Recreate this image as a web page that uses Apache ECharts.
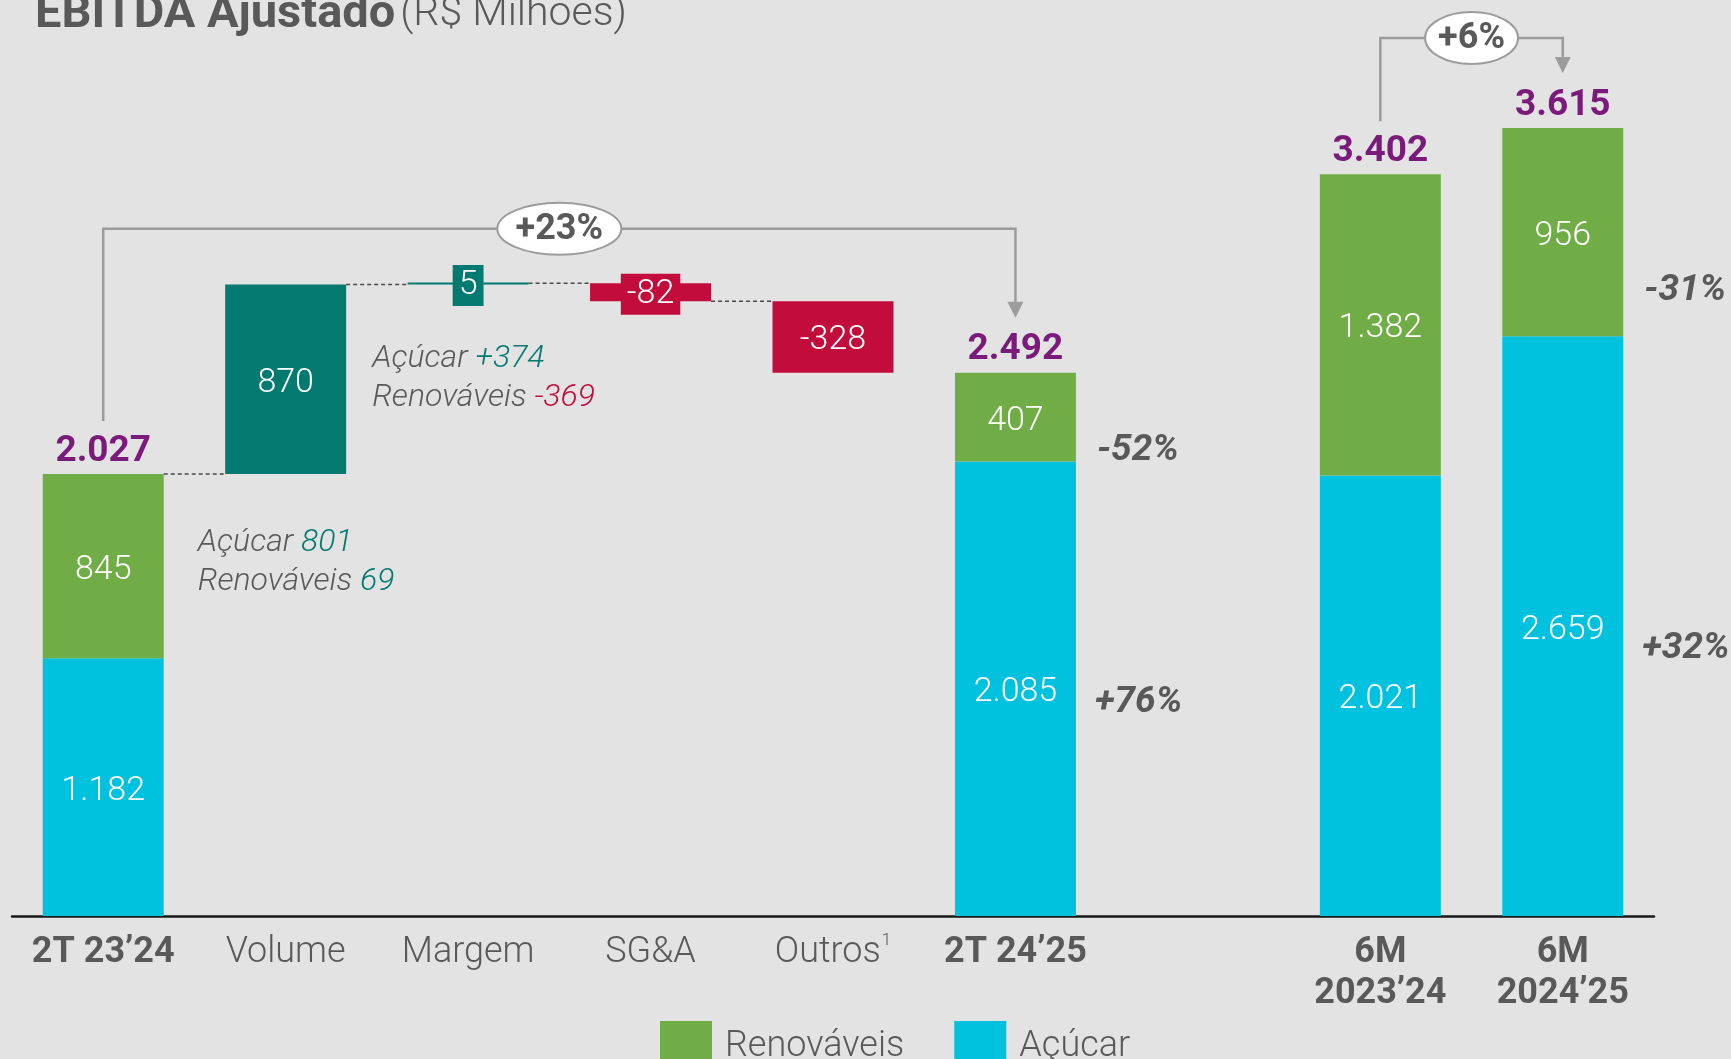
<!DOCTYPE html>
<html>
<head>
<meta charset="utf-8">
<title>EBITDA Ajustado</title>
<script src="https://cdn.jsdelivr.net/npm/echarts@6/dist/echarts.min.js"></script>
<style>
  html, body { margin: 0; padding: 0; background: #e3e3e3; }
  #chart { width: 1731px; height: 1059px; }
</style>
</head>
<body>
<div id="chart"></div>
<script>
// categories (index 6 is the empty gap before the 6M bars)
var categories = ['2T 23’24', 'Volume', 'Margem', 'SG&A', 'Outros', '2T 24’25', '', '6M\n2023’24', '6M\n2024’25'];
var acucar     = [1182, '-', '-', '-', '-', 2085, '-', 2021, 2659];
var renovaveis = [845,  '-', '-', '-', '-', 407,  '-', 1382, 956];
var totals     = [2027, '-', '-', '-', '-', 2492, '-', 3402, 3615];

// bridge 2T 23'24 -> 2T 24'25
var bridgeCats   = [1, 2, 3, 4];
var bridgeDeltas = [870, 5, -82, -328];

// growth per segment (Renováveis / Açúcar)
var growthRenov  = ['-', '-', '-', '-', '-', '-52%', '-', '-', '-31%'];
var growthAcucar = ['-', '-', '-', '-', '-', '+76%', '-', '-', '+32%'];

// brackets with % change
var bracketFrom   = [0, 7];
var bracketTo     = [5, 8];
var bracketLabels = ['+23%', '+6%'];

// split notes
var splitNames   = ['Açúcar', 'Renováveis'];
var openingSplit = [801, 69];
var volumeSplit  = [374, -369];

var FONT = 'Roboto, "Noto Sans", sans-serif';
var GRAY = '#595959';
var TEAL = '#027a6f';
var RED = '#c20c3c';
var GREEN = '#70ad47';
var CYAN = '#00c1de';
var PURPLE = '#7a1b7c';
var LINE = '#9c9c9c';
var BAR_RATIO = 0.663;

function fmt(n) {
  return String(n).replace(/\B(?=(\d{3})+(?!\d))/g, '.');
}

// waterfall base / height
var base = categories.map(function () { return '-'; });
var delta = categories.map(function () { return '-'; });
var levels = [[0, totals[0]]];
var level = totals[0];
bridgeCats.forEach(function (c, i) {
  var d = bridgeDeltas[i];
  base[c] = d >= 0 ? level : level + d;
  var boxed = Math.abs(d) < 100;
  delta[c] = {
    value: Math.abs(d),
    itemStyle: { color: d >= 0 ? TEAL : RED },
    label: {
      show: true, position: 'inside', color: '#fff', fontSize: 34, fontWeight: 300, fontFamily: FONT,
      backgroundColor: boxed ? (d >= 0 ? TEAL : RED) : 'transparent',
      padding: boxed ? [6, 6, 1, 6] : 0,
      offset: boxed ? [0, 2] : [0, 4],
      formatter: function () { return fmt(d); }
    }
  };
  level += d;
  levels.push([c, level]);
});
levels.pop(); // last level ends at 2T 24'25 itself

var valueLabel = {
  show: true, position: 'inside', color: '#fff', fontSize: 34, fontWeight: 300, fontFamily: FONT,
  offset: [0, 4],
  formatter: function (p) { return fmt(p.value); }
};

var axisData = categories.map(function (c, i) {
  return { value: c, textStyle: { fontWeight: totals[i] !== '-' ? 'bold' : 300 } };
});

// side notes
var notes = [];
function splitText(vals, signed) {
  return vals.map(function (v, k) {
    var s = signed && v > 0 ? '+' + fmt(v) : fmt(v);
    return '{n|' + splitNames[k] + ' }{' + (v >= 0 ? 'p' : 'm') + '|' + s + '}';
  }).join('\n');
}
notes.push({ cat: 0, value: acucar[0] + renovaveis[0] / 2, text: splitText(openingSplit, false), dx: 34, dy: -4 });
notes.push({ cat: 1, value: totals[0] + bridgeDeltas[0] / 2, text: splitText(volumeSplit, true), dx: 26, dy: -1 });
var pctShift = { 5: [34, 14], 8: [59, 23] };
growthRenov.forEach(function (g, i) {
  if (g === '-') return;
  notes.push({ cat: i, value: acucar[i] + renovaveis[i] / 2, text: '{g|' + g + '}', dx: 21, dy: pctShift[i][0] });
  notes.push({ cat: i, value: acucar[i] / 2, text: '{g|' + growthAcucar[i] + '}', dx: 19, dy: pctShift[i][1] });
});

var noteRich = {
  n: { fontFamily: FONT, fontSize: 32, fontStyle: 'italic', fontWeight: 300, fill: GRAY, lineHeight: 39 },
  p: { fontFamily: FONT, fontSize: 32, fontStyle: 'italic', fontWeight: 300, fill: TEAL, lineHeight: 39 },
  m: { fontFamily: FONT, fontSize: 32, fontStyle: 'italic', fontWeight: 300, fill: RED, lineHeight: 39 },
  g: { fontFamily: FONT, fontSize: 37, fontStyle: 'italic', fontWeight: 'bold', fill: GRAY, lineHeight: 40 }
};

var totalData = [];
totals.forEach(function (t, i) { if (t !== '-') totalData.push([i, t]); });

var chart = echarts.init(document.getElementById('chart'));
chart.setOption({
  backgroundColor: '#e3e3e3',
  animation: false,
  title: {
    text: '{b|EBITDA Ajustado} {l|(R$ Milhoes)}',
    left: 30, top: -13,
    textStyle: {
      rich: {
        b: { fontFamily: FONT, fontSize: 47, fontWeight: 'bold', color: GRAY, lineHeight: 46 },
        l: { fontFamily: FONT, fontSize: 41, fontWeight: 300, color: GRAY, lineHeight: 46 }
      }
    }
  },
  legend: {
    data: ['Renováveis', 'Açúcar'],
    left: 655, top: 1016,
    icon: 'rect', itemWidth: 52, itemHeight: 52, itemGap: 50,
    textStyle: { fontFamily: FONT, fontSize: 36, fontWeight: 300, color: GRAY, padding: [0, 0, 8, 8] }
  },
  grid: { left: 12, right: 77, top: 44, bottom: 143 },
  xAxis: {
    type: 'category',
    data: axisData,
    axisTick: { show: false },
    axisLine: { lineStyle: { color: '#1a1a1a', width: 2.5 } },
    axisLabel: {
      interval: 0, margin: 16, fontFamily: FONT, fontSize: 36, color: GRAY, lineHeight: 41,
      formatter: function (v) { return v === 'Outros' ? 'Outros{sup|1}' : v; },
      rich: { sup: { fontFamily: FONT, fontSize: 17, fontWeight: 300, color: GRAY, verticalAlign: 'top', padding: [0, 0, 18, 1] } }
    }
  },
  yAxis: { type: 'value', min: 0, max: 4000, show: false },
  series: [
    { name: 'Açúcar', type: 'bar', stack: 'v', barWidth: '66.3%', data: acucar,
      itemStyle: { color: CYAN }, label: valueLabel },
    { name: 'Renováveis', type: 'bar', stack: 'v', data: renovaveis,
      itemStyle: { color: GREEN }, label: valueLabel },
    { name: 'base', type: 'bar', stack: 'v', data: base, silent: true,
      itemStyle: { color: 'transparent' } },
    { name: 'delta', type: 'bar', stack: 'v', data: delta, barMinHeight: 2 },
    { // dashed connectors
      type: 'custom', z: 4, silent: true, data: levels,
      renderItem: function (params, api) {
        var p = api.coord([api.value(0), api.value(1)]);
        var q = api.coord([api.value(0) + 1, api.value(1)]);
        var half = api.size([1, 0])[0] * BAR_RATIO / 2;
        return { type: 'line', shape: { x1: p[0] + half, y1: p[1], x2: q[0] - half, y2: q[1] },
          style: { stroke: '#4a4a4a', lineWidth: 1.5, lineDash: [4, 3] } };
      }
    },
    { // totals
      type: 'custom', z: 5, silent: true, data: totalData,
      renderItem: function (params, api) {
        var p = api.coord([api.value(0), api.value(1)]);
        return { type: 'text', x: p[0], y: p[1] - 4,
          style: { text: fmt(api.value(1)), fill: PURPLE, font: 'bold 37px ' + FONT, align: 'center', verticalAlign: 'bottom' } };
      }
    },
    { // side notes
      type: 'custom', z: 5, silent: true, clip: false,
      data: notes.map(function (n) { return [n.cat, n.value]; }),
      renderItem: function (params, api) {
        var n = notes[params.dataIndex];
        var p = api.coord([n.cat, n.value]);
        var half = api.size([1, 0])[0] * BAR_RATIO / 2;
        return { type: 'text', x: p[0] + half + n.dx, y: p[1] + n.dy,
          style: { text: n.text, rich: noteRich, align: 'left', verticalAlign: 'middle' } };
      }
    },
    { // growth brackets
      type: 'custom', z: 6, silent: true, clip: false,
      data: bracketFrom.map(function (f) { return [f, totals[f]]; }),
      renderItem: function (params, api) {
        var i = params.dataIndex;
        var a = api.coord([bracketFrom[i], totals[bracketFrom[i]]]);
        var b = api.coord([bracketTo[i], totals[bracketTo[i]]]);
        var rise = i === 0 ? 144 : 90;
        var yTop = Math.min(a[1], b[1]) - rise;
        var y1 = a[1] - 53, y2 = b[1] - 55;
        var cx = (a[0] + b[0]) / 2;
        var rx = bracketLabels[i].length * 15.5;
        return { type: 'group', children: [
          { type: 'polyline', shape: { points: [[a[0], y1], [a[0], yTop], [b[0], yTop], [b[0], y2 - 14]] },
            style: { stroke: LINE, lineWidth: 2.5, fill: 'none' } },
          { type: 'polygon', shape: { points: [[b[0] - 8, y2 - 16], [b[0] + 8, y2 - 16], [b[0], y2]] },
            style: { fill: LINE } },
          { type: 'ellipse', shape: { cx: cx, cy: yTop, rx: rx, ry: 26 },
            style: { fill: '#ffffff', stroke: LINE, lineWidth: 2 } },
          { type: 'text', x: cx, y: yTop + 1,
            style: { text: bracketLabels[i], fill: GRAY, font: 'bold 36px ' + FONT, align: 'center', verticalAlign: 'middle' } }
        ] };
      }
    }
  ]
});
</script>
</body>
</html>
